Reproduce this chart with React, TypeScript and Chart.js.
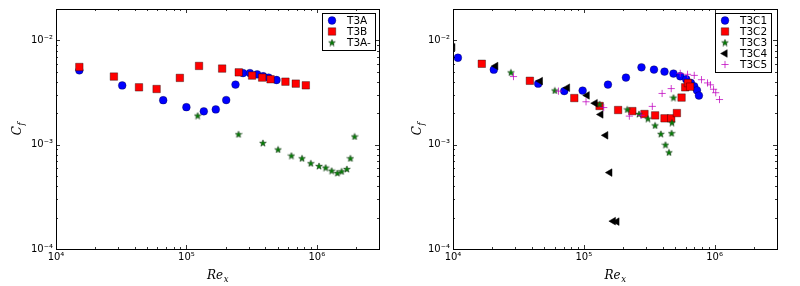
import { useEffect, useRef } from 'react';
import { Chart, registerables } from 'chart.js';
import { drawPoint } from 'chart.js/helpers';

Chart.register(...registerables);

// ---------- axis ranges & tick labels ----------
const X_MIN = 1e4;
const X_MAX = 3e6;
const Y_MIN = 1e-4;
const Y_MAX = 2e-2;
const X_TICKS = [1e4, 1e5, 1e6];
const X_TICK_LABELS = ['10⁴', '10⁵', '10⁶'];
const Y_TICKS = [1e-4, 1e-3, 1e-2];
const Y_TICK_LABELS = ['10⁻⁴', '10⁻³', '10⁻²'];

// ---------- left panel data ----------
const T3A_RE = [1.51e4, 3.22e4, 6.64e4, 1.0e5, 1.36e5, 1.68e5, 2.02e5, 2.38e5, 2.72e5, 3.07e5, 3.49e5, 3.88e5, 4.27e5, 4.91e5];
const T3A_CF = [5.16e-3, 3.7e-3, 2.67e-3, 2.29e-3, 2.09e-3, 2.18e-3, 2.68e-3, 3.77e-3, 4.86e-3, 4.86e-3, 4.73e-3, 4.53e-3, 4.4e-3, 4.17e-3];

const T3B_RE = [1.51e4, 2.78e4, 4.33e4, 5.91e4, 8.91e4, 1.25e5, 1.88e5, 2.52e5, 3.19e5, 3.81e5, 4.42e5, 5.75e5, 6.9e5, 8.24e5];
const T3B_CF = [5.56e-3, 4.5e-3, 3.55e-3, 3.42e-3, 4.37e-3, 5.69e-3, 5.37e-3, 4.94e-3, 4.6e-3, 4.4e-3, 4.24e-3, 4.02e-3, 3.85e-3, 3.71e-3];

const T3AM_RE = [1.22e5, 2.51e5, 3.86e5, 5.05e5, 6.39e5, 7.71e5, 8.99e5, 1.04e6, 1.17e6, 1.3e6, 1.44e6, 1.55e6, 1.7e6, 1.81e6, 1.95e6];
const T3AM_CF = [1.9e-3, 1.26e-3, 1.04e-3, 9.0e-4, 7.86e-4, 7.41e-4, 6.64e-4, 6.25e-4, 6.03e-4, 5.64e-4, 5.36e-4, 5.55e-4, 5.85e-4, 7.41e-4, 1.2e-3];

// ---------- right panel data ----------
const T3C1_RE = [1.09e4, 2.05e4, 4.48e4, 7.09e4, 9.8e4, 1.53e5, 2.1e5, 2.76e5, 3.44e5, 4.14e5, 4.85e5, 5.46e5, 6.07e5, 6.59e5, 6.99e5, 7.33e5, 7.59e5];
const T3C1_CF = [6.82e-3, 5.24e-3, 3.85e-3, 3.27e-3, 3.3e-3, 3.77e-3, 4.4e-3, 5.52e-3, 5.25e-3, 5.02e-3, 4.81e-3, 4.53e-3, 4.24e-3, 3.91e-3, 3.63e-3, 3.32e-3, 2.96e-3];

const T3C2_RE = [1.66e4, 3.87e4, 8.46e4, 1.32e5, 1.83e5, 2.35e5, 2.91e5, 3.51e5, 4.14e5, 4.66e5, 5.15e5, 5.59e5, 5.96e5, 6.25e5, 6.5e5];
const T3C2_CF = [5.97e-3, 4.1e-3, 2.8e-3, 2.35e-3, 2.15e-3, 2.1e-3, 1.97e-3, 1.91e-3, 1.79e-3, 1.79e-3, 2.01e-3, 2.83e-3, 3.55e-3, 3.9e-3, 3.6e-3];

const T3C3_RE = [2.77e4, 6.0e4, 1.32e5, 2.15e5, 2.64e5, 3.09e5, 3.51e5, 3.88e5, 4.21e5, 4.48e5, 4.69e5, 4.72e5, 4.85e5];
const T3C3_CF = [4.93e-3, 3.31e-3, 2.45e-3, 2.18e-3, 1.97e-3, 1.78e-3, 1.53e-3, 1.27e-3, 1.0e-3, 8.45e-4, 1.29e-3, 1.63e-3, 2.83e-3];

const T3C4_RE = [9.95e3, 2.12e4, 4.65e4, 7.5e4, 1.06e5, 1.22e5, 1.35e5, 1.47e5, 1.58e5, 1.68e5, 1.79e5];
const T3C4_CF = [8.6e-3, 5.68e-3, 4.07e-3, 3.52e-3, 2.97e-3, 2.5e-3, 1.95e-3, 1.23e-3, 5.4e-4, 1.85e-4, 1.83e-4];

const T3C5_RE = [2.9e4, 6.4e4, 1.04e5, 1.42e5, 2.23e5, 2.74e5, 3.34e5, 3.97e5, 4.66e5, 5.46e5, 6.21e5, 6.99e5, 7.94e5, 8.83e5, 9.3e5, 9.82e5, 1.02e6, 1.09e6];
const T3C5_CF = [4.5e-3, 3.26e-3, 2.58e-3, 2.27e-3, 1.88e-3, 1.91e-3, 2.33e-3, 3.1e-3, 3.45e-3, 4.83e-3, 4.73e-3, 4.62e-3, 4.2e-3, 3.91e-3, 3.75e-3, 3.4e-3, 3.15e-3, 2.71e-3];

// ---------- marker styles ----------
function makeStar(size: number, fill: string, stroke: string) {
  const c = document.createElement('canvas');
  c.width = size;
  c.height = size;
  const ctx = c.getContext('2d')!;
  const cx = size / 2;
  const cy = size / 2 + 0.4;
  const R = size / 2 - 0.5;
  const r = R * 0.42;
  ctx.beginPath();
  for (let i = 0; i < 10; i++) {
    const a = -Math.PI / 2 + (i * Math.PI) / 5;
    const rad = i % 2 === 0 ? R : r;
    ctx.lineTo(cx + rad * Math.cos(a), cy + rad * Math.sin(a));
  }
  ctx.closePath();
  ctx.fillStyle = fill;
  ctx.fill();
  ctx.lineWidth = 0.6;
  ctx.strokeStyle = stroke;
  ctx.stroke();
  return c;
}

type Style = {
  pointStyle: any;
  pointRadius: number;
  pointRotation?: number;
  pointBackgroundColor: string;
  pointBorderColor: string;
  pointBorderWidth: number;
};

function styles() {
  const star = makeStar(8, '#008000', '#1a3a1a');
  const circle: Style = { pointStyle: 'circle', pointRadius: 3.9, pointBackgroundColor: '#0000ff', pointBorderColor: 'rgba(0,0,0,0.6)', pointBorderWidth: 0.5 };
  const square: Style = { pointStyle: 'rect', pointRadius: 5.3, pointBackgroundColor: '#ff0000', pointBorderColor: 'rgba(0,0,0,0.6)', pointBorderWidth: 0.6 };
  const starS: Style = { pointStyle: star, pointRadius: 4, pointBackgroundColor: '#008000', pointBorderColor: '#000', pointBorderWidth: 0 };
  const tri: Style = { pointStyle: 'triangle', pointRotation: -90, pointRadius: 4.4, pointBackgroundColor: '#000', pointBorderColor: '#000', pointBorderWidth: 0.5 };
  const plus: Style = { pointStyle: 'cross', pointRadius: 3.6, pointBackgroundColor: 'rgba(0,0,0,0)', pointBorderColor: 'rgba(191,0,191,0.75)', pointBorderWidth: 1 };
  return { circle, square, star: starS, tri, plus };
}

function makeDataset(label: string, xs: number[], ys: number[], st: Style, order: number) {
  return {
    label,
    data: xs.map((x, i) => ({ x, y: ys[i] })),
    showLine: false,
    clip: 0,
    order,
    ...st,
  };
}

function tickLabel(v: number, values: number[], labels: string[]) {
  const i = values.findIndex((t) => Math.abs(Math.log10(v) - Math.log10(t)) < 1e-6);
  return i >= 0 ? labels[i] : '';
}

function logTickList(min: number, max: number) {
  const out: { v: number; major: boolean }[] = [];
  const d0 = Math.floor(Math.log10(min));
  const d1 = Math.ceil(Math.log10(max));
  for (let d = d0; d <= d1; d++) {
    for (let m = 1; m <= 9; m++) {
      const v = m * Math.pow(10, d);
      if (v >= min * 0.9999 && v <= max * 1.0001) out.push({ v, major: m === 1 });
    }
  }
  return out;
}

type LegendBox = { x: number; y: number; w: number };

function makeFramePlugin(legendBox: LegendBox) {
  return {
    id: 'frameAndLegend',
    afterDraw(chart: any) {
      const { ctx, chartArea: a, scales } = chart;
      const xs = scales.x;
      const ys = scales.y;
      ctx.save();
      // ticks inside on all four sides
      ctx.strokeStyle = '#000';
      ctx.lineWidth = 0.8;
      ctx.beginPath();
      for (const t of logTickList(X_MIN, X_MAX)) {
        const px = Math.round(xs.getPixelForValue(t.v)) + 0.5;
        const len = t.major ? 4 : 2;
        ctx.moveTo(px, a.bottom);
        ctx.lineTo(px, a.bottom - len);
        ctx.moveTo(px, a.top);
        ctx.lineTo(px, a.top + len);
      }
      for (const t of logTickList(Y_MIN, Y_MAX)) {
        const py = Math.round(ys.getPixelForValue(t.v)) + 0.5;
        const len = t.major ? 4 : 2;
        ctx.moveTo(a.left, py);
        ctx.lineTo(a.left + len, py);
        ctx.moveTo(a.right, py);
        ctx.lineTo(a.right - len, py);
      }
      ctx.stroke();
      // frame
      ctx.lineWidth = 1;
      ctx.strokeStyle = '#000';
      ctx.strokeRect(Math.round(a.left) + 0.5, Math.round(a.top) + 0.5, Math.round(a.right - a.left), Math.round(a.bottom - a.top));

      // axis titles
      ctx.fillStyle = '#000';
      ctx.textBaseline = 'alphabetic';
      const big = 'italic 12px "DejaVu Serif"';
      const small = 'italic 8.5px "DejaVu Serif"';
      ctx.font = big;
      const wRe = ctx.measureText('Re').width;
      ctx.font = small;
      const wx = ctx.measureText('x').width;
      const cxT = (a.left + a.right) / 2;
      const x0 = cxT - (wRe + wx) / 2;
      ctx.font = big;
      ctx.textAlign = 'left';
      ctx.fillText('Re', x0, 279);
      ctx.font = small;
      ctx.fillText('x', x0 + wRe + 0.5, 282);

      ctx.save();
      ctx.translate(21, (a.top + a.bottom) / 2);
      ctx.rotate(-Math.PI / 2);
      ctx.font = big;
      const wC = ctx.measureText('C').width;
      ctx.font = small;
      const wf = ctx.measureText('f').width;
      const y0 = -(wC + wf) / 2;
      ctx.font = big;
      ctx.fillText('C', y0, 0);
      ctx.font = small;
      ctx.fillText('f', y0 + wC + 0.5, 3);
      ctx.restore();

      // legend
      const ds = chart.data.datasets;
      const h = 15 + 11 * (ds.length - 1);
      ctx.fillStyle = '#fff';
      ctx.fillRect(legendBox.x, legendBox.y, legendBox.w, h);
      ctx.strokeStyle = '#000';
      ctx.lineWidth = 1;
      ctx.strokeRect(legendBox.x + 0.5, legendBox.y + 0.5, legendBox.w, h);
      ds.forEach((d: any, i: number) => {
        const ry = legendBox.y + 7.5 + 11 * i;
        ctx.save();
        ctx.fillStyle = d.pointBackgroundColor;
        ctx.strokeStyle = d.pointBorderColor;
        ctx.lineWidth = d.pointBorderWidth;
        drawPoint(ctx, {
          pointStyle: d.pointStyle,
          rotation: d.pointRotation || 0,
          radius: d.pointRadius,
          borderWidth: d.pointBorderWidth,
        } as any, legendBox.x + 10, ry);
        ctx.restore();
        ctx.fillStyle = '#000';
        ctx.font = '10.5px "DejaVu Sans"';
        ctx.textAlign = 'left';
        ctx.textBaseline = 'middle';
        ctx.fillText(d.label, legendBox.x + 25, ry + 0.5);
      });
      ctx.restore();
    },
  };
}

type PanelProps = {
  left: number;
  yAxisW: number;
  padRight: number;
  legend: LegendBox;
  build: () => any[];
};

function Panel({ left, yAxisW, padRight, legend, build }: PanelProps) {
  const ref = useRef<HTMLCanvasElement>(null);
  useEffect(() => {
    const tickFont = { size: 10, family: '"DejaVu Sans"' };
    const chart = new Chart(ref.current!, {
      type: 'scatter',
      data: { datasets: build() },
      options: {
        responsive: false,
        animation: false,
        devicePixelRatio: 1,
        events: [],
        layout: { padding: { top: 9, right: padRight, left: 0, bottom: 0 } },
        plugins: { legend: { display: false }, tooltip: { enabled: false } },
        scales: {
          x: {
            type: 'logarithmic',
            min: X_MIN,
            max: X_MAX,
            grid: { display: false, drawTicks: false },
            border: { display: false },
            ticks: {
              autoSkip: false,
              maxRotation: 0,
              minRotation: 0,
              padding: 2,
              color: '#000',
              font: tickFont,
              callback: (v: any) => tickLabel(Number(v), X_TICKS, X_TICK_LABELS),
            },
            afterFit: (s: any) => {
              s.height = 37;
            },
          },
          y: {
            type: 'logarithmic',
            min: Y_MIN,
            max: Y_MAX,
            grid: { display: false, drawTicks: false },
            border: { display: false },
            ticks: {
              autoSkip: false,
              padding: 3,
              color: '#000',
              font: tickFont,
              callback: (v: any) => tickLabel(Number(v), Y_TICKS, Y_TICK_LABELS),
            },
            afterFit: (s: any) => {
              s.width = yAxisW;
            },
          },
        },
      } as any,
      plugins: [makeFramePlugin(legend)],
    });
    return () => chart.destroy();
  }, []);
  return <canvas ref={ref} width={400} height={286} style={{ position: 'absolute', left, top: 0, width: 400, height: 286 }} />;
}

export default function App() {
  const buildLeft = () => {
    const s = styles();
    return [
      makeDataset('T3A', T3A_RE, T3A_CF, s.circle, 3),
      makeDataset('T3B', T3B_RE, T3B_CF, s.square, 2),
      makeDataset('T3A-', T3AM_RE, T3AM_CF, s.star, 1),
    ];
  };
  const buildRight = () => {
    const s = styles();
    return [
      makeDataset('T3C1', T3C1_RE, T3C1_CF, s.circle, 5),
      makeDataset('T3C2', T3C2_RE, T3C2_CF, s.square, 4),
      makeDataset('T3C3', T3C3_RE, T3C3_CF, s.star, 3),
      makeDataset('T3C4', T3C4_RE, T3C4_CF, s.tri, 2),
      makeDataset('T3C5', T3C5_RE, T3C5_CF, s.plus, 1),
    ];
  };
  return (
    <div style={{ position: 'absolute', left: 0, top: 0, width: 800, height: 286, background: '#fff' }}>
      <Panel left={0} yAxisW={56} padRight={21} legend={{ x: 322, y: 13, w: 53 }} build={buildLeft} />
      <Panel left={400} yAxisW={53} padRight={23} legend={{ x: 315, y: 13, w: 56 }} build={buildRight} />
    </div>
  );
}
